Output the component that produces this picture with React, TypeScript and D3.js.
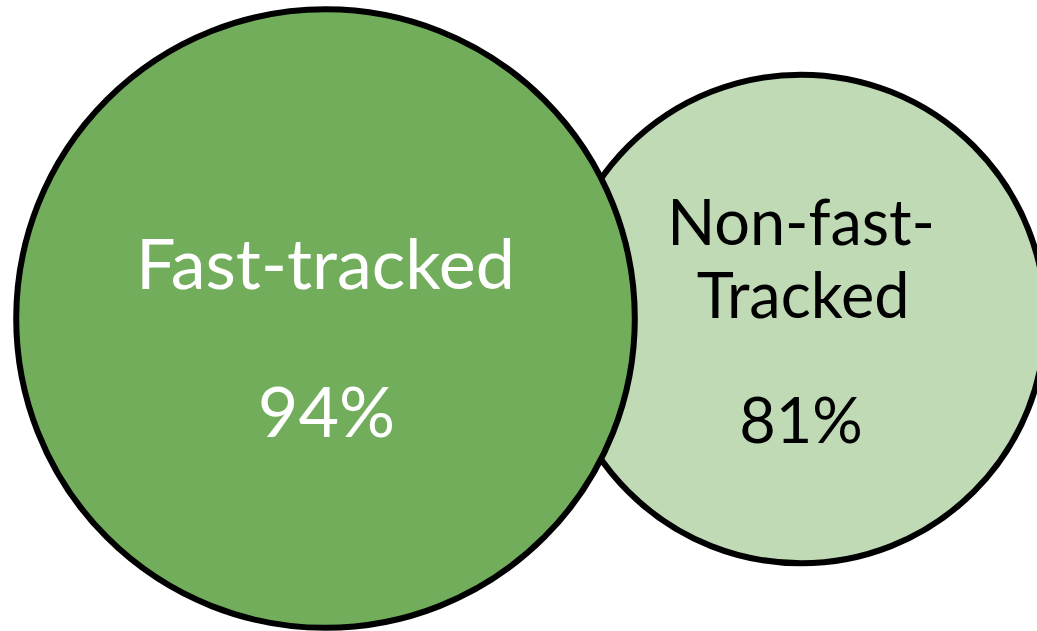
import React from "react";
import * as d3 from "d3";

const categories = ["Fast-tracked", "Non-fast-Tracked"];
const labelLines = [["Fast-tracked"], ["Non-fast-", "Tracked"]];
const values = [94, 81];
const fills = ["#72AD5C", "#C0DAB6"];
const textColors = ["#ffffff", "#000000"];

export default function App() {
  const W = 1037, H = 631;
  const x = d3.scaleLinear().domain([0, 100]).range([0, 1037]);
  const y = d3.scaleLinear().domain([0, 100]).range([0, 631]);
  const centers = [
    { cx: x(31.39), cy: y(50.48), r: 309.3 },
    { cx: x(77.25), cy: y(50.55), r: 244.3 },
  ];
  const fmt = d3.format(".0f");
  const order = [1, 0];
  return (
    <svg width={W} height={H} style={{ position: "absolute", left: 0, top: 0 }} fontFamily="Lato">
      {order.map((i) => (
        <circle key={categories[i]} cx={centers[i].cx} cy={centers[i].cy} r={centers[i].r}
          fill={fills[i]} stroke="#000" strokeWidth={6} />
      ))}
      <g fill={textColors[0]} textAnchor="middle" fontSize={70}>
        <text x={centers[0].cx} y={289}>{labelLines[0][0]}</text>
        <text x={centers[0].cx + 1} y={437}>{fmt(values[0]) + "%"}</text>
      </g>
      <g fill={textColors[1]} textAnchor="middle" fontSize={63}>
        <text x={centers[1].cx} y={245}>{labelLines[1][0]}</text>
        <text x={centers[1].cx + 2} y={318}>{labelLines[1][1]}</text>
        <text x={centers[1].cx} y={443}>{fmt(values[1]) + "%"}</text>
      </g>
    </svg>
  );
}
